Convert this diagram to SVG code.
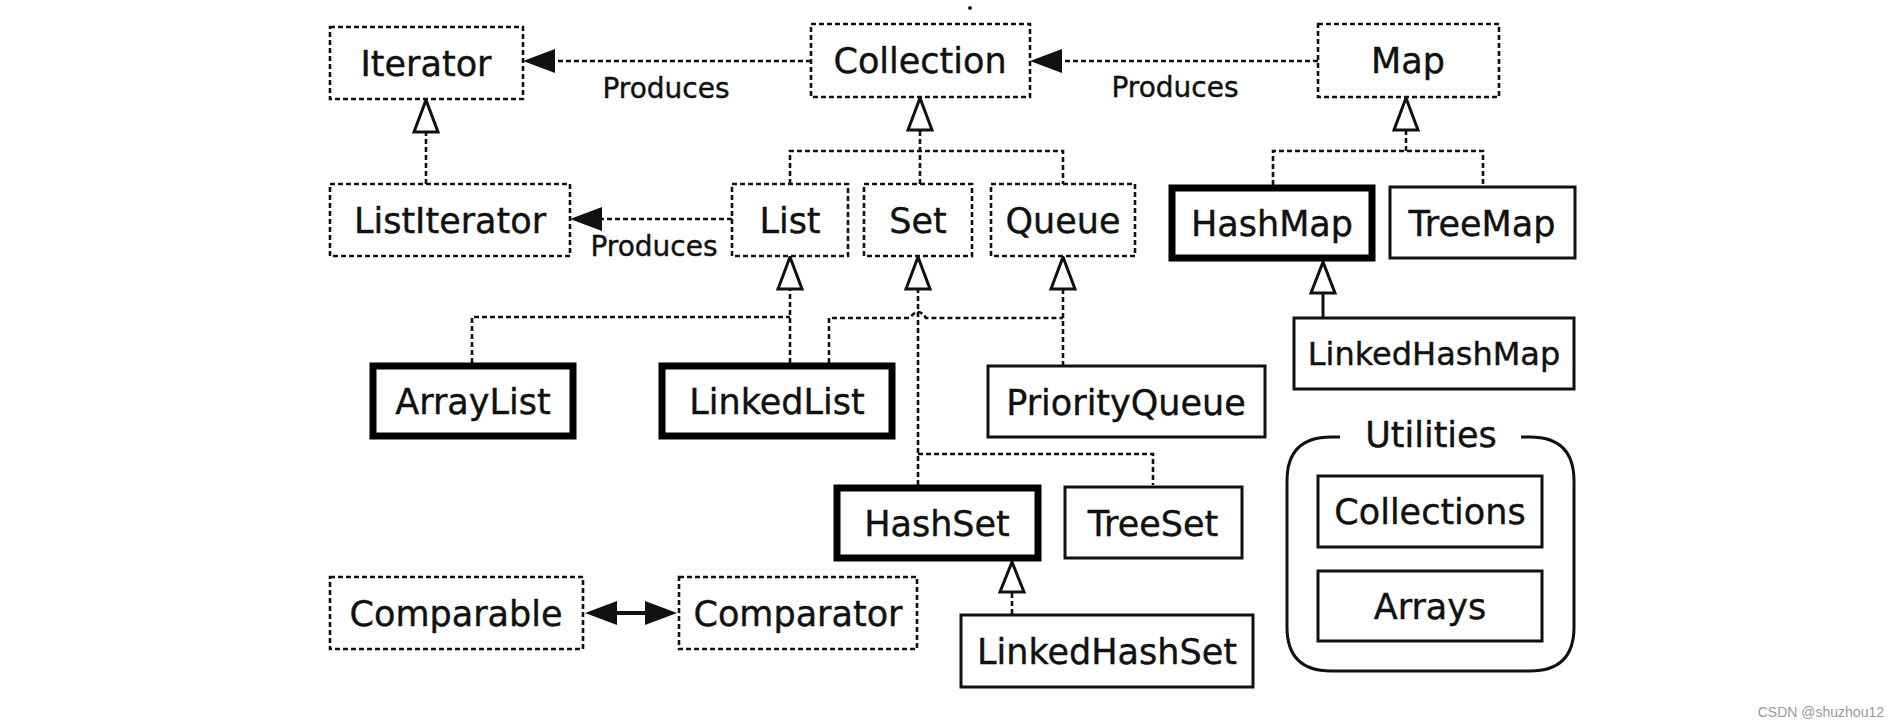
<svg xmlns="http://www.w3.org/2000/svg" width="1900" height="728" viewBox="0 0 1900 728">
<style>
.dbox{fill:#fff;stroke:#111;stroke-width:2.6;stroke-dasharray:5 3}
.sbox{fill:#fff;stroke:#111;stroke-width:3}
.tbox{fill:#fff;stroke:#000;stroke-width:7}
.lbl{font-family:"DejaVu Sans",Verdana,sans-serif;font-size:35px;fill:#111;text-anchor:middle;stroke:#111;stroke-width:0.4}
.prod{font-family:"DejaVu Sans",Verdana,sans-serif;font-size:28px;fill:#111;text-anchor:middle;stroke:#111;stroke-width:0.4}
.dl{fill:none;stroke:#111;stroke-width:2.6;stroke-dasharray:5 3}
.sl{fill:none;stroke:#111;stroke-width:3}
.tri{fill:#fff;stroke:#111;stroke-width:3}
.head{fill:#111;stroke:none}
</style>
<rect width="1900" height="728" fill="#fff"/>
<circle cx="970" cy="8" r="2" fill="#222"/>

<g id="connectors">
  <line class="dl" x1="811" y1="61" x2="550" y2="61"/>
  <polygon class="head" points="523,61 555,49 555,73"/>
  <line class="dl" x1="1318" y1="61" x2="1057" y2="61"/>
  <polygon class="head" points="1030,61 1062,49 1062,73"/>
  <line class="dl" x1="732" y1="219" x2="597" y2="219"/>
  <polygon class="head" points="570,219 602,207 602,231"/>
  <text class="prod" x="666" y="98">Produces</text>
  <text class="prod" x="1175" y="97">Produces</text>
  <text class="prod" x="654" y="256">Produces</text>

  <line class="dl" x1="426" y1="184" x2="426" y2="132"/>
  <polygon class="tri" points="426,100 414,132 438,132"/>

  <line class="dl" x1="920" y1="184" x2="920" y2="130"/>
  <polyline class="dl" points="790,184 790,151 1063,151 1063,184"/>
  <polygon class="tri" points="920,98 908,130 932,130"/>

  <line class="dl" x1="1406" y1="151" x2="1406" y2="130"/>
  <polyline class="dl" points="1273,185 1273,151 1483,151 1483,185"/>
  <polygon class="tri" points="1406,98 1394,130 1418,130"/>

  <line class="sl" x1="1323" y1="317" x2="1323" y2="293"/>
  <polygon class="tri" points="1323,262 1311,293 1335,293"/>

  <line class="dl" x1="790" y1="363" x2="790" y2="289"/>
  <polyline class="dl" points="472,363 472,317 790,317"/>
  <polygon class="tri" points="790,257 778,289 802,289"/>

  <line class="dl" x1="1063" y1="366" x2="1063" y2="289"/>
  <path class="dl" d="M829,363 V318 H910 Q918,306 926,318 H1063"/>
  <polygon class="tri" points="1063,257 1051,289 1075,289"/>

  <line class="dl" x1="918" y1="485" x2="918" y2="289"/>
  <polyline class="dl" points="918,454 1153,454 1153,485"/>
  <polygon class="tri" points="918,257 906,289 930,289"/>

  <line class="dl" x1="1012" y1="614" x2="1012" y2="592"/>
  <polygon class="tri" points="1012,562 1000,592 1024,592"/>

  <line x1="612" y1="613" x2="650" y2="613" stroke="#111" stroke-width="4"/>
  <polygon class="head" points="585,613 617,601 617,625"/>
  <polygon class="head" points="677,613 645,601 645,625"/>
</g>

<g id="Iterator"><rect class="dbox" x="330" y="27" width="193" height="72"/><text class="lbl" x="426" y="76">Iterator</text></g>
<g id="Collection"><rect class="dbox" x="811" y="24" width="219" height="73"/><text class="lbl" x="920" y="73">Collection</text></g>
<g id="Map"><rect class="dbox" x="1318" y="24" width="181" height="73"/><text class="lbl" x="1408" y="73">Map</text></g>
<g id="ListIterator"><rect class="dbox" x="330" y="184" width="240" height="72"/><text class="lbl" x="450" y="233">ListIterator</text></g>
<g id="List"><rect class="dbox" x="732" y="184" width="116" height="72"/><text class="lbl" x="790" y="233">List</text></g>
<g id="Set"><rect class="dbox" x="864" y="184" width="108" height="72"/><text class="lbl" x="918" y="233">Set</text></g>
<g id="Queue"><rect class="dbox" x="991" y="184" width="144" height="72"/><text class="lbl" x="1063" y="233">Queue</text></g>
<g id="HashMap"><rect class="tbox" x="1172" y="188" width="200" height="70"/><text class="lbl" x="1272" y="236">HashMap</text></g>
<g id="TreeMap"><rect class="sbox" x="1390" y="187" width="185" height="71"/><text class="lbl" x="1482" y="236">TreeMap</text></g>
<g id="LinkedHashMap"><rect class="sbox" x="1294" y="318" width="280" height="71"/><text class="lbl" x="1434" y="365" style="font-size:32px">LinkedHashMap</text></g>
<g id="ArrayList"><rect class="tbox" x="373" y="366" width="200" height="70"/><text class="lbl" x="473" y="414">ArrayList</text></g>
<g id="LinkedList"><rect class="tbox" x="662" y="366" width="230" height="70"/><text class="lbl" x="777" y="414">LinkedList</text></g>
<g id="PriorityQueue"><rect class="sbox" x="988" y="366" width="277" height="71"/><text class="lbl" x="1126" y="415">PriorityQueue</text></g>
<g id="HashSet"><rect class="tbox" x="837" y="488" width="201" height="70"/><text class="lbl" x="937" y="536">HashSet</text></g>
<g id="TreeSet"><rect class="sbox" x="1065" y="487" width="177" height="71"/><text class="lbl" x="1153" y="536">TreeSet</text></g>
<g id="LinkedHashSet"><rect class="sbox" x="961" y="615" width="292" height="72"/><text class="lbl" x="1107" y="664">LinkedHashSet</text></g>
<g id="Comparable"><rect class="dbox" x="330" y="577" width="253" height="72"/><text class="lbl" x="456" y="626">Comparable</text></g>
<g id="Comparator"><rect class="dbox" x="679" y="577" width="238" height="72"/><text class="lbl" x="798" y="626">Comparator</text></g>

<g id="Utilities">
  <path class="sl" d="M1340,437 H1331 Q1287,437 1287,481 V627 Q1287,671 1331,671 H1530 Q1574,671 1574,627 V481 Q1574,437 1530,437 H1521"/>
  <text class="lbl" x="1431" y="447">Utilities</text>
</g>
<g id="Collections"><rect class="sbox" x="1318" y="476" width="224" height="71"/><text class="lbl" x="1430" y="524">Collections</text></g>
<g id="Arrays"><rect class="sbox" x="1318" y="571" width="224" height="70"/><text class="lbl" x="1430" y="619">Arrays</text></g>

<text x="1884" y="717" font-family="Liberation Sans,Arial,sans-serif" font-size="14" fill="#999" text-anchor="end">CSDN @shuzhou12</text>
</svg>
